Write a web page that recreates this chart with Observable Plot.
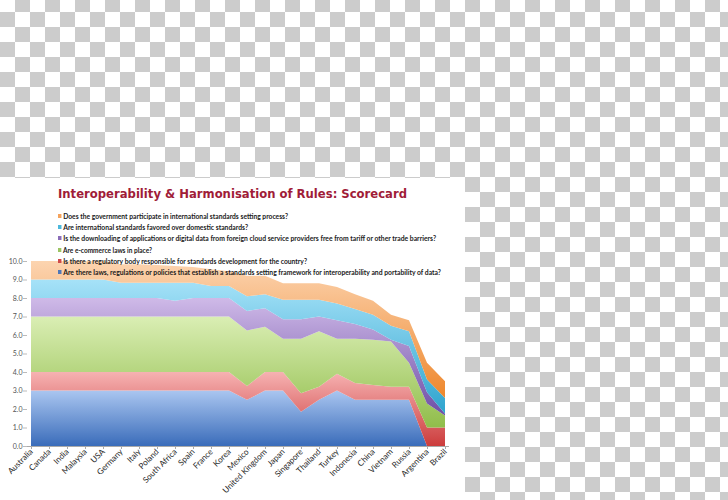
<!DOCTYPE html>
<html><head><meta charset="utf-8">
<script src="https://cdn.jsdelivr.net/npm/d3@7"></script>
<script src="https://cdn.jsdelivr.net/npm/@observablehq/plot@0.6"></script>
<style>
html,body{margin:0;padding:0;width:728px;height:500px;overflow:hidden}
body{background:repeating-conic-gradient(#cccccc 0 25%, #ffffff 0 50%) 0 -3px / 30px 30px;}
#card{position:absolute;left:0;top:178px;width:465px;height:322px;background:#fff;}
#chart{position:absolute;left:0;top:0}
.fit{position:absolute;white-space:nowrap;transform-origin:0 50%}
.title{left:58px;top:9px;font:bold 12.5px "DejaVu Sans",sans-serif;line-height:14px;color:#a01c38}
.leg{left:58px;font:bold 7.8px Lato,sans-serif;line-height:9px;color:#1a1a1a}
.mk{display:inline-block;width:4px;height:4px;margin-right:2px;vertical-align:1px}
</style></head>
<body>
<div id="card"><div id="chart"></div></div>
<script>
const countries = ["Australia","Canada","India","Malaysia","USA","Germany","Italy","Poland","South Africa","Spain","France","Korea","Mexico","United Kingdom","Japan","Singapore","Thailand","Turkey","Indonesia","China","Vietnam","Russia","Argentina","Brazil"];

// Series values per country (stacked bottom to top: blue, red, green, purple, cyan, orange)
const blueVals   = [3,3,3,3,3,3,3,3,3,3,3,3,2.5,3,3,1.85,2.5,3,2.5,2.5,2.5,2.5,0,0];
const redVals    = [1,1,1,1,1,1,1,1,1,1,1,1,0.75,1,1,1,0.7,0.9,0.9,0.8,0.7,0.7,1,1];
const greenVals  = [3,3,3,3,3,3,3,3,3,3,3,3,3,2.45,1.8,2.95,3,1.9,2.4,2.45,2.45,1.3,1.3,0.65];
const purpleVals = [1,1,1,1,1,1,1,1,0.85,1,1,1,1.05,1,1.05,1.05,0.8,1,0.8,0.55,0.1,0.9,0.6,0.1];
const cyanVals   = [1,1,1,1,1,0.83,0.83,0.83,0.98,0.83,0.65,0.65,0.8,0.75,1.05,1.05,0.9,0.9,0.8,0.8,0.75,0.8,0.7,0.85];
const orangeVals = [1,1,1,1,1,1,1,0.95,0.9,0.85,0.9,0.8,1.1,1,0.9,0.9,0.9,0.9,0.8,0.75,0.6,0.6,0.9,0.9];

const seriesNames = [
  "Are there laws, regulations or policies that establish a standards setting framework for interoperability and portability of data?",
  "Is there a regulatory body responsible for standards development for the country?",
  "Are e-commerce laws in place?",
  "Is the downloading of applications or digital data from foreign cloud service providers free from tariff or other trade barriers?",
  "Are international standards favored over domestic standards?",
  "Does the government participate in international standards setting process?"
];
const seriesValues = [blueVals, redVals, greenVals, purpleVals, cyanVals, orangeVals];
const gradIds = ["gBlue","gRed","gGreen","gPurple","gCyan","gOrange"];
const gradStops = [["#aac6f0","#3a6cba"],["#f6b2b2","#cc3c3c"],["#daeeb4","#90bd4a"],["#cfbae8","#6e4ea6"],["#a6e2f8","#2ea4ce"],["#fcd4b0","#ee872c"]];
const markerColors = ["#4f78b8","#cf4a4a","#9cc463","#8a6cb8","#4cb8dc","#f5a35c"];
const yTicks = [0,1,2,3,4,5,6,7,8,9,10];
const titleText = "Interoperability & Harmonisation of Rules: Scorecard";
const legendWidths = [224,184,372,88,243,377]; // top-to-bottom order

const data = [];
seriesNames.forEach((s, i) => countries.forEach((c, j) => data.push({country: c, series: s, value: seriesValues[i][j], fill: `url(#${gradIds[i]})`})));

const chart = Plot.plot({
  width: 465, height: 322,
  marginLeft: 27, marginRight: 16, marginTop: 83, marginBottom: 54,
  style: {fontFamily: "Lato, sans-serif", background: "transparent", color: "#555"},
  x: {type: "point", domain: countries, padding: 0},
  y: {domain: [0, 10]},
  color: {type: "identity"},
  marks: [
    Plot.areaY(data, {x: "country", y: "value", z: "series", fill: "fill", order: seriesNames}),
    Plot.ruleY([0], {stroke: "#aaa", strokeWidth: 1}),
    Plot.axisX({tickRotate: -45, tickSize: 3, tickPadding: 1, fontSize: 8.2, label: null, stroke: "#aaa", fill: "#2a2a2a"}),
    Plot.axisY({ticks: yTicks, tickFormat: d3.format(".1f"), tickSize: 4, tickPadding: 1, fontSize: 7, label: null, stroke: "#bbb", fill: "#555"})
  ]
});
const ns = "http://www.w3.org/2000/svg";
const defs = document.createElementNS(ns, "defs");
gradIds.forEach((id, i) => {
  const g = document.createElementNS(ns, "linearGradient");
  g.setAttribute("id", id); g.setAttribute("x1", 0); g.setAttribute("y1", 0); g.setAttribute("x2", 0); g.setAttribute("y2", 1);
  gradStops[i].forEach((c, k) => {
    const st = document.createElementNS(ns, "stop");
    st.setAttribute("offset", k); st.setAttribute("stop-color", c);
    g.appendChild(st);
  });
  defs.appendChild(g);
});
chart.prepend(defs);
document.getElementById("chart").appendChild(chart);

const card = document.getElementById("card");
const t = document.createElement("div");
t.className = "fit title"; t.textContent = titleText; t.dataset.w = 349;
card.appendChild(t);
const legendCenters = [38, 49.3, 60.7, 72, 83.3, 94.7];
for (let k = 0; k < 6; k++) {
  const i = 5 - k; // orange first
  const d = document.createElement("div");
  d.className = "fit leg";
  d.style.top = (legendCenters[k] - 4.5) + "px";
  const m = document.createElement("span"); m.className = "mk"; m.style.background = markerColors[i];
  const s = document.createElement("span"); s.textContent = seriesNames[i];
  d.appendChild(m); d.appendChild(s);
  d.dataset.w = legendWidths[k] + 6;
  card.appendChild(d);
}
document.querySelectorAll(".fit").forEach(el => {
  const w = el.getBoundingClientRect().width;
  el.style.transform = `scaleX(${(+el.dataset.w) / w})`;
});
</script>
</body></html>
